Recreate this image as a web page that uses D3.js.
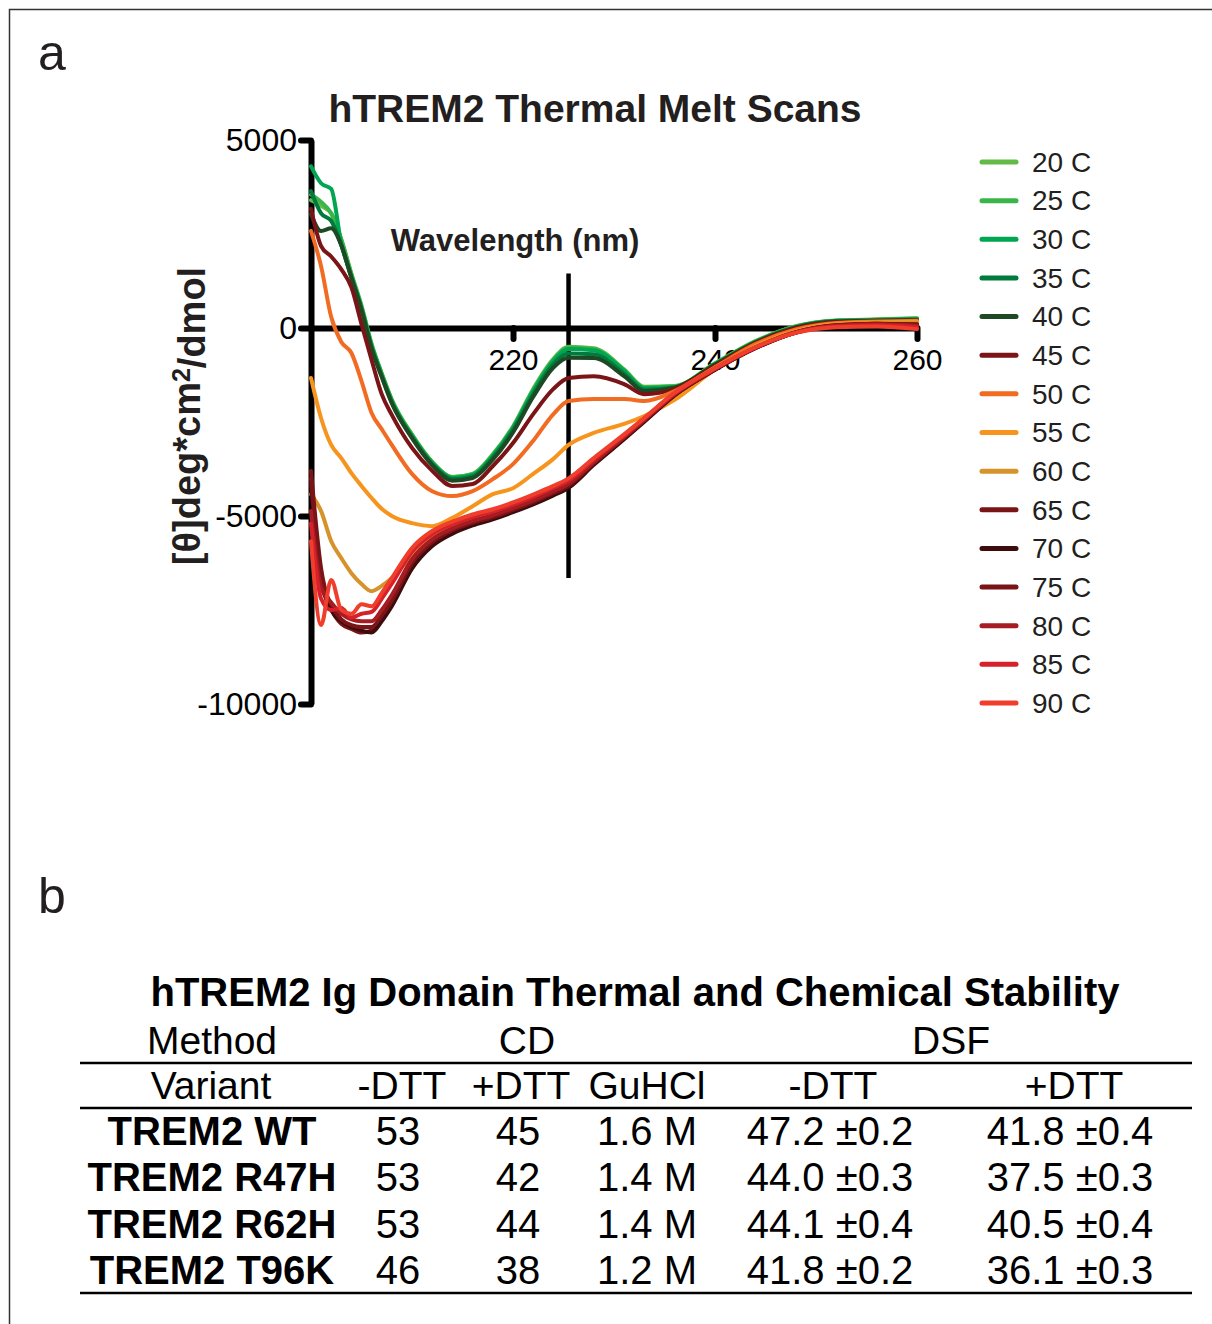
<!DOCTYPE html>
<html>
<head>
<meta charset="utf-8">
<script src="https://cdn.jsdelivr.net/npm/d3@7"></script>
<style>
	body { margin: 0; background: white; }
	svg { display: block; font-family: "Liberation Sans", Arial, sans-serif; }
</style>
</head>
<body>
<script>

var wavelengths = [200, 201, 202, 203, 204, 205, 206, 207, 208, 210, 212, 214, 216, 218, 220, 222, 224, 225.5, 228, 231, 233, 236, 240, 244, 248, 252, 256, 260];

var temperatures = ["20 C", "25 C", "30 C", "35 C", "40 C", "45 C", "50 C", "55 C", "60 C", "65 C", "70 C", "75 C", "80 C", "85 C", "90 C"];

var scanColors = ["#62bb46", "#3ab54a", "#00a651", "#007a3d", "#1d4a24", "#7b1416", "#f26b22", "#f7941d", "#d6922b", "#7b1416", "#3e0c0c", "#7b1416", "#a51c22", "#d7212a", "#ef3e2b"];

// mean residue ellipticity, one row per temperature
var scan20 = [3400, 3250, 3050, 2350, 1450, 600, -420, -1200, -1900, -2830, -3560, -3960, -3880, -3360, -2620, -1620, -820, -500, -540, -1100, -1560, -1540, -940, -350, 50, 200, 230, 260];
var scan25 = [3550, 3350, 3050, 2350, 1420, 560, -450, -1220, -1920, -2850, -3570, -3970, -3890, -3380, -2640, -1650, -850, -520, -560, -1120, -1580, -1550, -950, -360, 40, 195, 220, 250];
var scan30 = [4300, 3850, 3700, 2250, 1380, 530, -480, -1240, -1940, -2870, -3590, -3990, -3910, -3400, -2660, -1680, -880, -560, -590, -1140, -1600, -1570, -960, -370, 30, 190, 210, 240];
var scan35 = [3640, 3050, 2850, 2200, 1350, 500, -520, -1280, -1980, -2900, -3620, -4020, -3950, -3450, -2720, -1760, -960, -680, -700, -1220, -1640, -1580, -970, -380, 20, 180, 200, 220];
var scan40 = [3030, 2580, 2650, 2200, 1330, 480, -550, -1300, -2000, -2930, -3650, -4060, -3990, -3500, -2780, -1830, -1050, -790, -800, -1280, -1680, -1590, -980, -390, 10, 170, 190, 210];
var scan45 = [3170, 2180, 1900, 1560, 1080, 100, -850, -1760, -2310, -3190, -3800, -4200, -4150, -3670, -3060, -2290, -1620, -1330, -1280, -1490, -1760, -1620, -1000, -400, 0, 160, 180, 200];
var scan50 = [2580, 1640, 290, -370, -665, -1410, -2260, -2690, -3110, -3880, -4340, -4470, -4340, -4020, -3620, -3000, -2290, -1940, -1890, -1890, -1940, -1680, -1040, -430, -40, 130, 170, 190];
var scan55 = [-1330, -2400, -3110, -3460, -3860, -4200, -4520, -4810, -5000, -5190, -5270, -5050, -4740, -4420, -4260, -3880, -3480, -3110, -2790, -2550, -2340, -1910, -1100, -480, -80, 110, 150, 170];
var scan60 = [-4420, -4870, -5670, -6120, -6520, -6810, -7000, -6860, -6650, -6050, -5550, -5300, -5120, -4980, -4800, -4600, -4350, -4150, -3560, -2880, -2420, -1740, -1060, -500, -90, 90, 130, 140];
var scan65 = [-3800, -6400, -7450, -7870, -8000, -8100, -8050, -7750, -7350, -6350, -5750, -5420, -5220, -5060, -4870, -4660, -4420, -4220, -3620, -2940, -2480, -1780, -1110, -530, -120, 70, 110, 90];
var scan70 = [-4200, -6700, -7500, -7800, -7950, -8050, -8100, -7800, -7400, -6400, -5800, -5470, -5250, -5090, -4900, -4690, -4450, -4250, -3640, -2960, -2490, -1790, -1110, -540, -120, 60, 100, 80];
var scan75 = [-4000, -6600, -7350, -7750, -7900, -7950, -7950, -7650, -7250, -6250, -5700, -5380, -5180, -5030, -4840, -4630, -4390, -4190, -3600, -2920, -2460, -1770, -1100, -530, -120, 70, 110, 100];
var scan80 = [-4870, -6900, -7300, -7600, -7750, -7800, -7800, -7500, -7100, -6150, -5620, -5330, -5130, -4980, -4790, -4580, -4340, -4140, -3560, -2900, -2440, -1760, -1090, -520, -110, 60, 100, 60];
var scan85 = [-5200, -7200, -7500, -7450, -7700, -7600, -7550, -7200, -6800, -5950, -5480, -5220, -5030, -4880, -4700, -4490, -4250, -4060, -3500, -2860, -2410, -1740, -1080, -520, -120, 40, 70, 20];
var scan90 = [-5670, -7900, -6700, -7500, -7600, -7350, -7400, -7050, -6650, -5850, -5400, -5150, -4960, -4820, -4640, -4430, -4200, -4000, -3460, -2830, -2390, -1720, -1070, -510, -130, 20, 40, -30];

var scans = [scan20, scan25, scan30, scan35, scan40, scan45, scan50, scan55, scan60, scan65, scan70, scan75, scan80, scan85, scan90];

var xTicks = [220, 240, 260];
var yTicks = [5000, 0, -5000, -10000];

// the vertical marker line in panel a
var markerWavelength = 225.5;
var markerRange = [1450, -6650];

// panel b table
var variants = ["TREM2 WT", "TREM2 R47H", "TREM2 R62H", "TREM2 T96K"];
var cdMinusDTT = ["53", "53", "53", "46"];
var cdPlusDTT = ["45", "42", "44", "38"];
var cdGuHCl = ["1.6 M", "1.4 M", "1.4 M", "1.2 M"];
var dsfMinusDTT = ["47.2 ±0.2", "44.0 ±0.3", "44.1 ±0.4", "41.8 ±0.2"];
var dsfPlusDTT = ["41.8 ±0.4", "37.5 ±0.3", "40.5 ±0.4", "36.1 ±0.3"];
var methodHeader = ["Method", "CD", "DSF"];
var columnHeader = ["Variant", "-DTT", "+DTT", "GuHCl", "-DTT", "+DTT"];

var ink = "#231f20";

var svg = d3.select("body")
	.append("svg")
	.attr("width", 1212)
	.attr("height", 1324);

var x = d3.scaleLinear()
	.domain([200, 260])
	.range([311, 917]);

var y = d3.scaleLinear()
	.domain([-10000, 5000])
	.range([704, 140]);

function addFrame() {

	// only the top and left edges of the frame are in the picture
	svg.append("path")
		.attr("d", "M9.5,1324V9.5H1212")
		.attr("fill", "none")
		.attr("stroke", "#333")
		.attr("stroke-width", 1.5);

	svg.append("text")
		.attr("x", 38)
		.attr("y", 70)
		.attr("font-size", "50px")
		.attr("fill", ink)
		.text("a");

	svg.append("text")
		.attr("x", 38)
		.attr("y", 913)
		.attr("font-size", "50px")
		.attr("fill", ink)
		.text("b");
}

function addAxes() {

	svg.append("text")
		.attr("x", 595)
		.attr("y", 122)
		.attr("text-anchor", "middle")
		.attr("font-size", "39px")
		.attr("font-weight", "bold")
		.attr("fill", ink)
		.text("hTREM2 Thermal Melt Scans");

	var yAxis = svg.append("g")
		.attr("transform", "translate(" + x(200) + ",0)")
		.call(d3.axisLeft(y)
			.tickValues(yTicks)
			.tickFormat(function(d) { return String(d); }) // plain hyphen, no thousands comma
			.tickSize(10)
			.tickSizeOuter(0)
			.tickPadding(4));

	var xAxis = svg.append("g")
		.attr("transform", "translate(0," + y(0) + ")")
		.call(d3.axisBottom(x)
			.tickValues(xTicks)
			.tickSize(11)
			.tickSizeOuter(0)
			.tickPadding(10));

	[yAxis, xAxis].forEach(function(axis) {
		axis.select(".domain")
			.attr("stroke", "black")
			.attr("stroke-width", 6);
		axis.selectAll(".tick line")
			.attr("stroke", "black")
			.attr("stroke-width", 6)
			.attr("stroke-linecap", "round");
		axis.selectAll(".tick text")
			.attr("fill", "black")
			.attr("font-family", "Liberation Sans, Arial, sans-serif");
	});

	yAxis.selectAll(".tick text").attr("font-size", "32px");
	xAxis.selectAll(".tick text").attr("font-size", "30px");

	svg.append("text")
		.attr("x", 515)
		.attr("y", 251)
		.attr("text-anchor", "middle")
		.attr("font-size", "31px")
		.attr("font-weight", "bold")
		.attr("fill", ink)
		.text("Wavelength (nm)");

	var yLabel = svg.append("text")
		.attr("transform", "translate(200,416) rotate(-90)")
		.attr("text-anchor", "middle")
		.attr("font-size", "38px")
		.attr("font-weight", "bold")
		.attr("fill", ink);
	yLabel.append("tspan").text("[θ]deg*cm");
	yLabel.append("tspan").attr("dy", "-0.4em").attr("font-size", "25px").text("2");
	yLabel.append("tspan").attr("dy", "0.4em").text("/dmol");

	svg.append("line")
		.attr("x1", x(markerWavelength))
		.attr("x2", x(markerWavelength))
		.attr("y1", y(markerRange[0]))
		.attr("y2", y(markerRange[1]))
		.attr("stroke", "black")
		.attr("stroke-width", 4.5);
}

function addScans() {

	var line = d3.line()
		.x(function(d, i) { return x(wavelengths[i]); })
		.y(function(d) { return y(d); })
		.curve(d3.curveMonotoneX);

	svg.append("g")
		.selectAll("path")
		.data(scans)
		.enter()
		.append("path")
		.attr("d", line)
		.attr("fill", "none")
		.attr("stroke", function(_, i) { return scanColors[i]; })
		.attr("stroke-width", 4)
		.attr("stroke-linejoin", "round")
		.attr("stroke-linecap", "round");
}

function addLegend() {

	var legendY = d3.scalePoint()
		.domain(temperatures)
		.range([162, 703]);

	var items = svg.append("g")
		.selectAll("g")
		.data(temperatures)
		.enter()
		.append("g")
		.attr("transform", function(d) { return "translate(0," + legendY(d) + ")"; });

	items.append("line")
		.attr("x1", 982)
		.attr("x2", 1016)
		.attr("stroke", function(_, i) { return scanColors[i]; })
		.attr("stroke-width", 5)
		.attr("stroke-linecap", "round");

	items.append("text")
		.attr("x", 1032)
		.attr("dy", "0.35em")
		.attr("font-size", "28px")
		.attr("fill", ink)
		.text(function(d) { return d; });
}

function addTable() {

	svg.append("text")
		.attr("x", 635)
		.attr("y", 1006)
		.attr("text-anchor", "middle")
		.attr("font-size", "40px")
		.attr("font-weight", "bold")
		.attr("fill", "black")
		.text("hTREM2 Ig Domain Thermal and Chemical Stability");

	var methodX = [212, 527, 951];
	var headerX = [211, 402, 521, 647, 833, 1074];
	var cellX = [212, 398, 518, 647, 830, 1070];

	svg.append("g")
		.selectAll("text")
		.data(methodHeader)
		.enter()
		.append("text")
		.attr("x", function(_, i) { return methodX[i]; })
		.attr("y", 1054)
		.attr("text-anchor", "middle")
		.attr("font-size", "39px")
		.attr("fill", "black")
		.text(function(d) { return d; });

	svg.append("g")
		.selectAll("text")
		.data(columnHeader)
		.enter()
		.append("text")
		.attr("x", function(_, i) { return headerX[i]; })
		.attr("y", 1099)
		.attr("text-anchor", "middle")
		.attr("font-size", "39px")
		.attr("fill", "black")
		.text(function(d) { return d; });

	var rowY = d3.scalePoint()
		.domain(variants)
		.range([1145, 1284]);

	var rows = variants.map(function(v, i) {
		return [v, cdMinusDTT[i], cdPlusDTT[i], cdGuHCl[i], dsfMinusDTT[i], dsfPlusDTT[i]];
	});

	svg.append("g")
		.selectAll("g")
		.data(rows)
		.enter()
		.append("g")
		.attr("transform", function(d) { return "translate(0," + rowY(d[0]) + ")"; })
		.selectAll("text")
		.data(function(d) { return d; })
		.enter()
		.append("text")
		.attr("x", function(_, i) { return cellX[i]; })
		.attr("text-anchor", "middle")
		.attr("font-size", "40px")
		.attr("font-weight", function(_, i) { return i == 0 ? "bold" : "normal"; })
		.attr("fill", "black")
		.text(function(d) { return d; });

	svg.append("g")
		.selectAll("line")
		.data([1063, 1108, 1293])
		.enter()
		.append("line")
		.attr("x1", 80)
		.attr("x2", 1192)
		.attr("y1", function(d) { return d; })
		.attr("y2", function(d) { return d; })
		.attr("stroke", "black")
		.attr("stroke-width", 2.5);
}

addFrame();
addAxes();
addScans();
addLegend();
addTable();

</script>
</body>
</html>
